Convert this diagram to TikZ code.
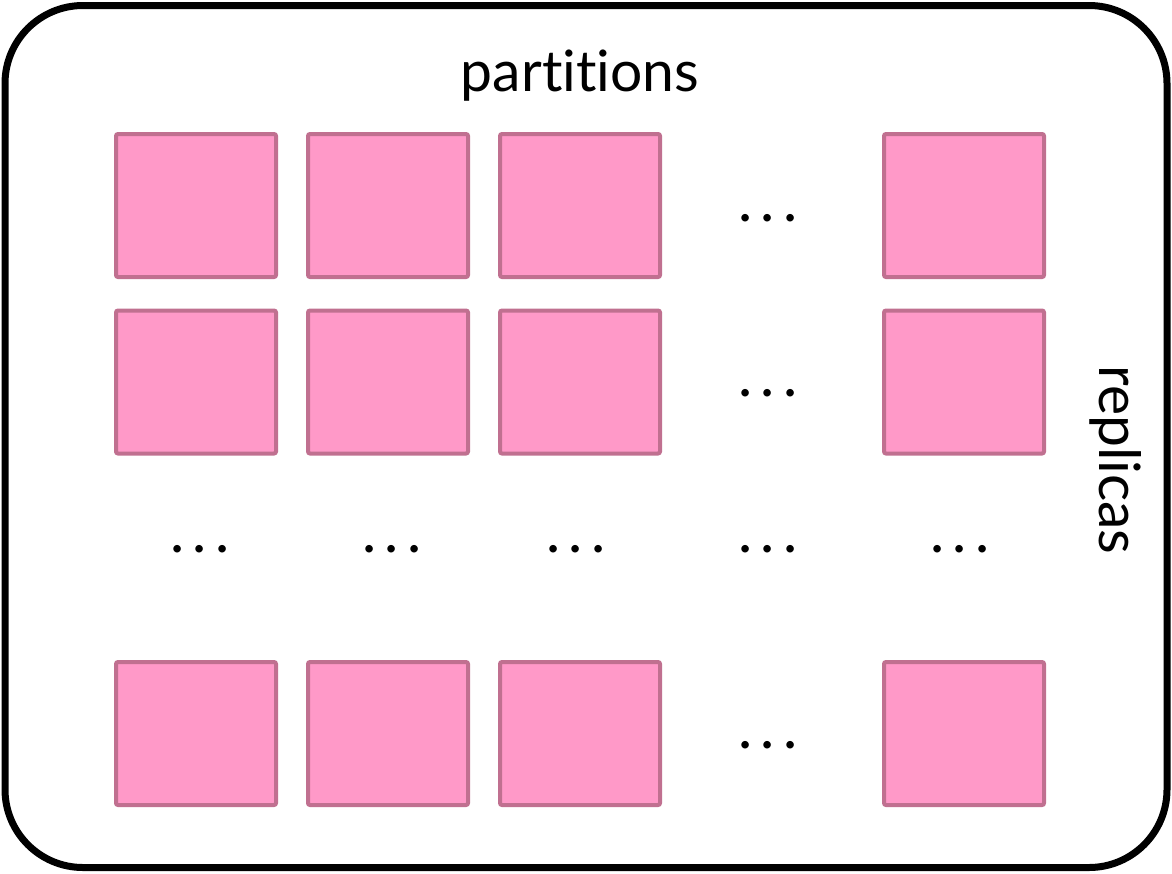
\documentclass[tikz,border=0pt]{standalone}
\usepackage{fontspec}
\setmainfont[Ligatures=NoCommon]{Lato}
\usepackage{xcolor}
\usetikzlibrary{positioning}
\definecolor{cellfill}{RGB}{255,153,200}
\definecolor{celldraw}{RGB}{192,112,144}
\newcommand{\gapdots}{.\hspace{8pt}.\hspace{8pt}.}
\tikzset{
  frame/.style={
    rectangle,
    rounded corners=78pt,
    draw=black,
    line width=7pt,
    minimum width=1162pt,
    minimum height=862pt
  },
  cell/.style={
    rectangle,
    rounded corners=2pt,
    draw=celldraw,
    fill=cellfill,
    line width=4pt,
    minimum width=160pt,
    minimum height=143pt,
    inner sep=0pt
  },
  dots/.style={
    inner sep=0pt,
    anchor=base,
    font=\fontsize{60}{64}\selectfont
  },
  label/.style={
    inner sep=0pt,
    font=\fontsize{57}{66}\selectfont
  }
}

\begin{document}
\begin{tikzpicture}[x=1pt,y=-1pt]
  \useasboundingbox (0,0) rectangle (1172,873);
  \node[frame] (frame) at (586,436.5) {};
  \node[label] (partitions) at (580,76) {partitions};
  \node[label, rotate=-90] (replicas) at (1116,460) {replicas};

  \foreach \c/\x in {1/196,2/388,3/580,4/964} {
    \foreach \r/\y in {1/205.5,2/382,4/733.5} {
      \node[cell] (cell-\r-\c) at (\x,\y) {};
    }
  }
  \foreach \r/\y in {1/221,2/396,4/748} {
    \node[dots] (dots-\r) at (768,\y) {\gapdots};
  }
  \foreach \c/\x in {1/200,2/392,3/576,4/768,5/960} {
    \node[dots] (gap-\c) at (\x,552) {\gapdots};
  }
\end{tikzpicture}
\end{document}
